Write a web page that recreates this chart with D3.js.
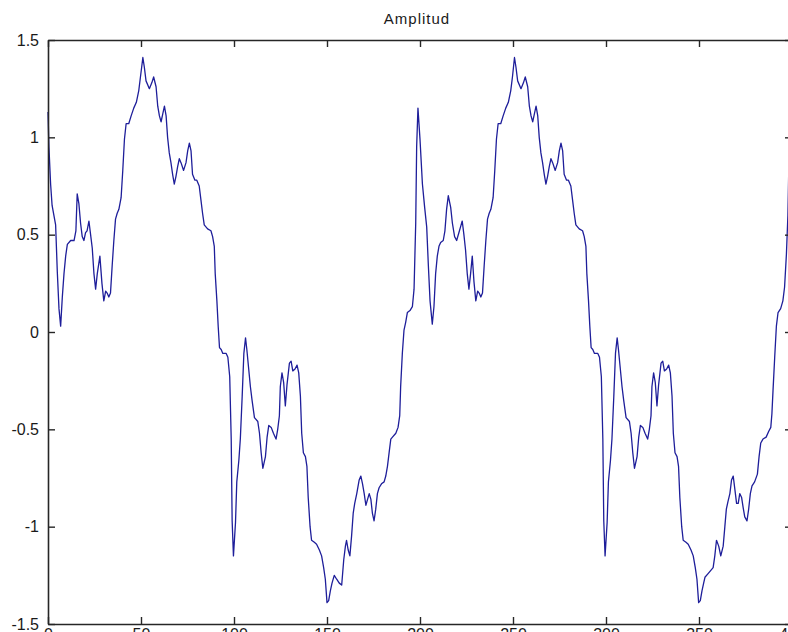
<!DOCTYPE html>
<html>
<head>
<meta charset="utf-8">
<script src="https://cdn.jsdelivr.net/npm/d3@7"></script>
<style>
  body { margin: 0; background: #fff; }
  svg { display: block; font-family: "Liberation Sans", Arial, sans-serif; }
</style>
</head>
<body>
<figure id="amplitud" style="margin:0"></figure>
<script>
// valores (primer periodo, 0..200)
const tiempoA = [0, 0.5, 1.4, 2.2, 4.1, 5.0, 5.9, 6.8, 7.7, 8.6, 9.5, 10.4, 12.2, 14.0, 15.0, 15.7, 16.6, 17.5, 18.4, 19.3,
  20.2, 21.0, 22.0, 22.9, 23.8, 24.7, 25.6, 26.5, 27.9, 29.0, 30.0, 31.0, 31.8, 32.7, 33.6, 34.5, 35.4, 36.3, 37.2, 38.1,
  39.3, 40.2, 41.1, 42.0, 43.4, 44.7, 46.1, 47.5, 48.8, 49.7, 51.0, 51.8, 52.7, 54.5, 55.8, 56.8, 58.1, 59.0, 59.9, 60.8,
  61.7, 62.6, 63.5, 64.3, 65.2, 66.1, 67.0, 67.9, 68.8, 69.7, 70.6, 71.5, 72.9, 74.2, 75.1, 76.0, 76.9, 77.7, 79.0, 80.0,
  81.3, 82.2, 83.1, 84.0, 85.8, 87.6, 88.5, 89.4, 89.9, 90.8, 91.5, 92.2, 93.1, 94.0, 95.8, 96.7, 97.7, 98.5, 99.0, 99.7,
  100.8, 101.5, 102.6, 103.4, 104.4, 105.3, 106.2, 106.9, 107.8, 108.8, 109.7, 111.0, 112.8, 113.7, 114.6, 115.5, 116.9, 117.8, 118.7, 120.0,
  121.2, 122.6, 123.5, 124.4, 124.9, 125.8, 126.7, 127.6, 128.5, 129.8, 130.7, 131.6, 132.8, 133.9, 134.8, 135.7, 136.4, 137.3, 138.4, 139.2,
  139.9, 140.9, 141.7, 143.2, 144.4, 145.9, 147.1, 148.2, 149.1, 150.0, 150.9, 151.8, 152.7, 153.9, 155.2, 156.6, 157.9, 159.0, 159.9, 160.5,
  161.4, 162.3, 163.2, 164.1, 164.9, 166.0, 167.3, 168.2, 169.1, 170.0, 170.9, 171.8, 172.7, 173.6, 174.4, 175.3, 176.2, 177.1, 178.0, 179.3,
  180.7, 181.6, 182.5, 183.4, 184.3, 185.2, 187.0, 188.2, 189.1, 189.6, 190.5, 191.4, 192.3, 193.2, 194.6, 195.9, 196.8, 197.7, 198.2, 198.9];
const amplitudA = [1.13, 0.95, 0.76, 0.65, 0.55, 0.31, 0.12, 0.03, 0.18, 0.30, 0.39, 0.45, 0.47, 0.47, 0.52, 0.71, 0.66, 0.56, 0.49, 0.47,
  0.51, 0.52, 0.57, 0.50, 0.43, 0.30, 0.22, 0.30, 0.39, 0.25, 0.16, 0.21, 0.20, 0.18, 0.20, 0.34, 0.47, 0.58, 0.61, 0.63,
  0.69, 0.83, 0.99, 1.07, 1.07, 1.11, 1.15, 1.18, 1.24, 1.31, 1.41, 1.36, 1.29, 1.25, 1.28, 1.31, 1.26, 1.16, 1.11, 1.08,
  1.12, 1.16, 1.11, 1.00, 0.92, 0.87, 0.81, 0.76, 0.80, 0.85, 0.89, 0.87, 0.83, 0.87, 0.93, 0.97, 0.93, 0.81, 0.78, 0.78,
  0.75, 0.68, 0.61, 0.55, 0.53, 0.52, 0.49, 0.44, 0.30, 0.16, 0.03, -0.08, -0.09, -0.11, -0.11, -0.13, -0.23, -0.55, -0.97, -1.15,
  -0.98, -0.77, -0.66, -0.55, -0.33, -0.11, -0.03, -0.09, -0.18, -0.28, -0.35, -0.44, -0.46, -0.52, -0.62, -0.70, -0.64, -0.54, -0.48, -0.49,
  -0.52, -0.55, -0.50, -0.43, -0.28, -0.21, -0.26, -0.38, -0.27, -0.16, -0.15, -0.20, -0.19, -0.17, -0.21, -0.33, -0.52, -0.62, -0.64, -0.69,
  -0.85, -1.00, -1.07, -1.08, -1.09, -1.12, -1.15, -1.21, -1.27, -1.39, -1.38, -1.33, -1.29, -1.25, -1.27, -1.29, -1.30, -1.17, -1.10, -1.07,
  -1.12, -1.15, -1.05, -0.93, -0.88, -0.83, -0.76, -0.74, -0.78, -0.83, -0.89, -0.86, -0.83, -0.86, -0.93, -0.97, -0.91, -0.83, -0.80, -0.78,
  -0.77, -0.74, -0.69, -0.62, -0.55, -0.54, -0.52, -0.49, -0.43, -0.28, -0.11, 0.01, 0.05, 0.10, 0.11, 0.13, 0.22, 0.56, 0.95, 1.15];

// segundo periodo, 200..400
const tiempoB = [200.0, 201.3, 202.5, 203.6, 204.5, 205.4, 206.6, 207.5, 208.4, 209.3, 210.2, 211.1, 212.5, 213.4, 214.3, 215.2, 216.5, 217.4, 218.6, 219.7,
  220.9, 221.8, 222.7, 223.6, 224.5, 225.4, 226.3, 227.2, 228.1, 229.0, 230.0, 231.0, 231.8, 232.7, 233.6, 234.5, 235.4, 236.3, 237.2, 238.1,
  239.3, 240.2, 241.1, 242.0, 243.4, 244.7, 246.1, 247.5, 248.8, 249.7, 250.8, 251.6, 252.5, 254.3, 255.6, 256.6, 257.9, 258.8, 259.7, 260.6,
  261.5, 262.4, 263.3, 264.1, 265.0, 265.9, 266.8, 267.7, 268.6, 269.5, 270.4, 271.3, 272.7, 274.0, 274.9, 275.8, 276.7, 277.5, 278.8, 279.8,
  281.1, 282.0, 282.9, 283.8, 285.6, 287.4, 288.3, 289.2, 289.7, 290.6, 291.3, 292.0, 292.9, 293.8, 295.6, 296.5, 297.5, 298.3, 298.8, 299.5,
  300.6, 301.3, 302.4, 303.2, 304.2, 305.1, 306.0, 306.7, 307.6, 308.6, 309.5, 310.8, 312.6, 313.5, 314.4, 315.3, 316.7, 317.6, 318.5, 319.8,
  321.0, 322.4, 323.3, 324.2, 324.7, 325.6, 326.5, 327.4, 328.3, 329.6, 330.5, 331.4, 332.6, 333.7, 334.6, 335.5, 336.2, 337.1, 338.2, 339.0,
  339.7, 340.7, 341.5, 343.0, 344.2, 345.7, 346.9, 348.0, 348.9, 349.8, 350.7, 351.6, 352.5, 353.2, 355.0, 357.6, 358.5, 359.4, 360.6, 361.7,
  363.0, 363.9, 364.7, 365.6, 366.6, 367.5, 368.4, 369.3, 370.2, 371.1, 371.9, 372.9, 373.7, 374.6, 375.8, 376.7, 377.6, 378.5, 379.9, 381.4,
  382.3, 383.2, 384.4, 386.1, 387.5, 388.6, 389.2, 389.8, 390.7, 391.6, 392.5, 393.9, 395.1, 396.0, 397.0, 397.8, 398.5, 399.2, 400.0];
const amplitudB = [0.99, 0.76, 0.64, 0.54, 0.34, 0.16, 0.04, 0.13, 0.30, 0.39, 0.44, 0.46, 0.47, 0.52, 0.63, 0.70, 0.64, 0.56, 0.49, 0.47,
  0.51, 0.54, 0.57, 0.50, 0.42, 0.30, 0.22, 0.30, 0.39, 0.26, 0.16, 0.21, 0.20, 0.18, 0.20, 0.34, 0.47, 0.58, 0.61, 0.63,
  0.69, 0.83, 0.99, 1.07, 1.07, 1.11, 1.15, 1.18, 1.24, 1.31, 1.41, 1.36, 1.29, 1.25, 1.28, 1.31, 1.26, 1.16, 1.11, 1.08,
  1.12, 1.16, 1.11, 1.00, 0.92, 0.87, 0.81, 0.76, 0.80, 0.85, 0.89, 0.87, 0.83, 0.87, 0.93, 0.97, 0.93, 0.81, 0.78, 0.78,
  0.75, 0.68, 0.61, 0.55, 0.53, 0.52, 0.49, 0.44, 0.30, 0.16, 0.03, -0.08, -0.09, -0.11, -0.11, -0.13, -0.23, -0.55, -0.97, -1.15,
  -0.98, -0.77, -0.66, -0.55, -0.33, -0.11, -0.03, -0.09, -0.18, -0.28, -0.35, -0.44, -0.46, -0.52, -0.62, -0.70, -0.64, -0.54, -0.48, -0.49,
  -0.52, -0.55, -0.50, -0.43, -0.28, -0.21, -0.26, -0.38, -0.27, -0.16, -0.15, -0.20, -0.19, -0.17, -0.21, -0.33, -0.52, -0.62, -0.64, -0.69,
  -0.85, -1.00, -1.07, -1.08, -1.09, -1.12, -1.15, -1.21, -1.27, -1.39, -1.38, -1.33, -1.29, -1.26, -1.24, -1.21, -1.15, -1.07, -1.10, -1.15,
  -1.10, -1.00, -0.91, -0.87, -0.83, -0.76, -0.74, -0.81, -0.88, -0.88, -0.83, -0.85, -0.90, -0.95, -0.97, -0.91, -0.83, -0.79, -0.77, -0.73,
  -0.64, -0.57, -0.55, -0.54, -0.51, -0.49, -0.42, -0.30, -0.13, 0.03, 0.10, 0.12, 0.16, 0.23, 0.40, 0.60, 0.95, 1.15, 1.00];

const xTicks = [0, 50, 100, 150, 200, 250, 300, 350, 400];
const yTicks = [-1.5, -1, -0.5, 0, 0.5, 1, 1.5];
const titulo = "Amplitud";

const width = 788, height = 632;
const margin = { left: 48, right: 792, top: 40, bottom: 624 };

const svg = d3.select("figure#amplitud")
  .append("svg")
  .attr("width", width)
  .attr("height", height);

const x = d3.scaleLinear().domain([0, 400]).range([margin.left, margin.right]);
const y = d3.scaleLinear().domain([-1.5, 1.5]).range([margin.bottom, margin.top]);

const puntos = d3.zip(tiempoA.concat(tiempoB), amplitudA.concat(amplitudB));

// curva
svg.append("path")
  .datum(puntos)
  .attr("fill", "none")
  .attr("stroke", "#1e1e9a")
  .attr("stroke-width", 1.3)
  .attr("stroke-linejoin", "round")
  .attr("d", d3.line().x(d => x(d[0])).y(d => y(d[1])));

// ejes (ticks hacia dentro, caja completa)
const fmt = d => String(d);
function estilo(g) {
  g.attr("font-family", null);
  g.select(".domain").attr("stroke", "#262626").attr("stroke-width", 1.6);
  g.selectAll(".tick line").attr("stroke", "#262626").attr("stroke-width", 1.4);
  g.selectAll("text").attr("fill", "#1a1a1a").style("font-size", "16px");
}

svg.append("g")
  .attr("transform", "translate(0," + margin.bottom + ")")
  .call(d3.axisBottom(x).tickValues(xTicks).tickFormat(fmt).tickSizeInner(-7).tickSizeOuter(0).tickPadding(5))
  .call(estilo);

svg.append("g")
  .attr("transform", "translate(0," + margin.top + ")")
  .call(d3.axisTop(x).tickValues(xTicks).tickFormat("").tickSizeInner(-7).tickSizeOuter(0))
  .call(estilo);

svg.append("g")
  .attr("transform", "translate(" + margin.left + ",0)")
  .call(d3.axisLeft(y).tickValues(yTicks).tickFormat(fmt).tickSizeInner(-7).tickSizeOuter(0).tickPadding(9))
  .call(estilo);

svg.append("g")
  .attr("transform", "translate(" + margin.right + ",0)")
  .call(d3.axisRight(y).tickValues(yTicks).tickFormat("").tickSizeInner(-7).tickSizeOuter(0))
  .call(estilo);

// titulo
svg.append("text")
  .attr("x", (margin.left + margin.right) / 2 - 3)
  .attr("y", 24)
  .attr("text-anchor", "middle")
  .style("font-size", "15px")
  .style("letter-spacing", "1px")
  .attr("fill", "#1a1a1a")
  .text(titulo);
</script>
</body>
</html>
